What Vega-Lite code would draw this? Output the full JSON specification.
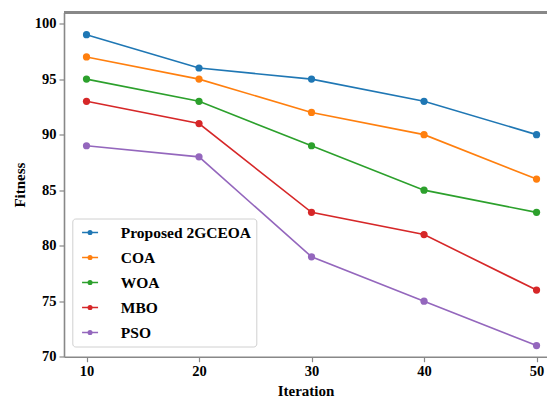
{
  "$schema": "https://vega.github.io/schema/vega-lite/v6.json",
  "width": 483,
  "height": 344.2,
  "autosize": "none",
  "padding": {"left": 64, "top": 12.5, "right": 0, "bottom": 42.3},
  "background": "white",
  "config": {
    "view": {"stroke": null},
    "font": "Liberation Serif",
    "axis": {
      "labelFont": "Liberation Serif", "labelFontWeight": "bold", "labelFontSize": 14.5, "labelColor": "black",
      "titleFont": "Liberation Serif", "titleFontWeight": "bold", "titleFontSize": 15, "titleColor": "black",
      "domainColor": "#888", "domainWidth": 1.6, "tickColor": "#888", "tickWidth": 1.2, "tickSize": 5,
      "grid": false, "labelPadding": 3
    },
    "legend": {
      "labelFont": "Liberation Serif", "labelFontWeight": "bold", "labelFontSize": 15.5, "labelColor": "black"
    }
  },
  "data": {"values": [
    {"series": "Proposed 2GCEOA", "iteration": 10, "fitness": 99},
    {"series": "Proposed 2GCEOA", "iteration": 20, "fitness": 96},
    {"series": "Proposed 2GCEOA", "iteration": 30, "fitness": 95},
    {"series": "Proposed 2GCEOA", "iteration": 40, "fitness": 93},
    {"series": "Proposed 2GCEOA", "iteration": 50, "fitness": 90},
    {"series": "COA", "iteration": 10, "fitness": 97},
    {"series": "COA", "iteration": 20, "fitness": 95},
    {"series": "COA", "iteration": 30, "fitness": 92},
    {"series": "COA", "iteration": 40, "fitness": 90},
    {"series": "COA", "iteration": 50, "fitness": 86},
    {"series": "WOA", "iteration": 10, "fitness": 95},
    {"series": "WOA", "iteration": 20, "fitness": 93},
    {"series": "WOA", "iteration": 30, "fitness": 89},
    {"series": "WOA", "iteration": 40, "fitness": 85},
    {"series": "WOA", "iteration": 50, "fitness": 83},
    {"series": "MBO", "iteration": 10, "fitness": 93},
    {"series": "MBO", "iteration": 20, "fitness": 91},
    {"series": "MBO", "iteration": 30, "fitness": 83},
    {"series": "MBO", "iteration": 40, "fitness": 81},
    {"series": "MBO", "iteration": 50, "fitness": 76},
    {"series": "PSO", "iteration": 10, "fitness": 89},
    {"series": "PSO", "iteration": 20, "fitness": 88},
    {"series": "PSO", "iteration": 30, "fitness": 79},
    {"series": "PSO", "iteration": 40, "fitness": 75},
    {"series": "PSO", "iteration": 50, "fitness": 71}
  ]},
  "layer": [
    {
      "mark": {"type": "rule", "color": "#888", "strokeWidth": 1.6},
      "encoding": {"y": {"datum": 101, "scale": {"domain": [70, 101]}}}
    },
    {
      "mark": {"type": "line", "strokeWidth": 1.6, "point": {"filled": true, "size": 52, "opacity": 1}},
      "encoding": {
        "x": {
          "field": "iteration", "type": "quantitative",
          "scale": {"domain": [8, 50.93], "nice": false, "zero": false},
          "axis": {"values": [10, 20, 30, 40, 50], "title": "Iteration", "titlePadding": 5}
        },
        "y": {
          "field": "fitness", "type": "quantitative",
          "scale": {"domain": [70, 101], "nice": false, "zero": false},
          "axis": {"values": [70, 75, 80, 85, 90, 95, 100], "title": "Fitness", "titlePadding": 7}
        },
        "color": {
          "field": "series", "type": "nominal",
          "scale": {
            "domain": ["Proposed 2GCEOA", "COA", "WOA", "MBO", "PSO"],
            "range": ["#1f77b4", "#ff7f0e", "#2ca02c", "#d62728", "#9467bd"]
          },
          "legend": {
            "title": null,
            "orient": "none",
            "legendX": 8.3,
            "legendY": 206,
            "symbolType": "M-0.53,0H1.47M0.25,0A0.22,0.22,0,1,0,0.69,0A0.22,0.22,0,1,0,0.25,0Z",
            "symbolSize": 256,
            "symbolStrokeWidth": 1.6,
            "labelOffset": 25.5,
            "rowPadding": 7,
            "padding": 5,
            "strokeColor": "#d0d0d0",
            "fillColor": "white",
            "cornerRadius": 3,
            "encode": {
              "symbols": {"update": {
                "fill": {"field": "value", "scale": "color"},
                "stroke": {"field": "value", "scale": "color"},
                "fillOpacity": {"value": 1}
              }}
            }
          }
        }
      }
    }
  ]
}
